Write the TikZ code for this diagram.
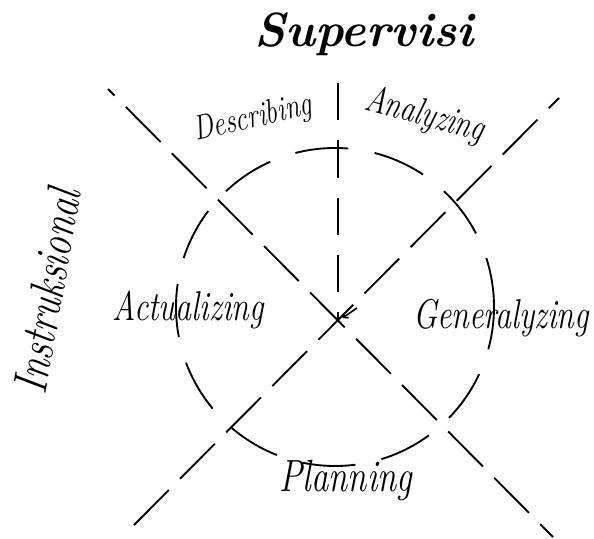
\documentclass[tikz,border=0pt]{standalone}
\usepackage{amsmath}
\usetikzlibrary{arrows.meta}

\tikzset{
  dashline/.style={line width=1.4pt, dash pattern=on 37pt off 12pt},
  ringline/.style={line width=1.4pt, dash pattern=on 40pt off 20pt},
  hand/.style={inner sep=0.75pt, font=\itshape}
}
\newcommand{\tallword}[2]{\scalebox{1}[1.3]{\fontsize{#1}{#1}\selectfont #2}}

\begin{document}
\begin{tikzpicture}[x=0.75pt,y=0.75pt,yscale=-1,xscale=1]
\useasboundingbox (0,0) rectangle (594,539);

%Coordinates
\coordinate (tl) at (108,89);
\coordinate (br) at (553,537);
\coordinate (tr) at (559,98);
\coordinate (bl) at (134,525);
\coordinate (top) at (338,83);
\coordinate (mid) at (338,321);
\coordinate (ctr) at (335,307);
\coordinate (tick) at (357,308);

%Circle [dashed]
\draw [ringline, dash phase=8pt] (ctr) circle [radius=159];
%Straight Lines [diagonals]
\draw [dashline, dash phase=30pt] (tl) -- (br);
\draw [dashline] (bl) -- (tr);
%Straight Lines [vertical]
\draw [line width=1.4pt, dash pattern=on 28pt off 15pt] (top) -- (mid);
\draw [line width=1.2pt, -{Straight Barb[length=3pt,width=5pt]}, shorten >=4pt] (tick) -- (mid);

% Text Node
\node (supervisi) [hand] at (364,34) {\fontsize{36}{40}\selectfont\bfseries Supervisi};
% Text Node
\node (describing) [hand, rotate=13] at (253,119) {\tallword{20}{Describing}};
% Text Node
\node (analyzing) [hand, rotate=-15] at (425,116) {\tallword{22}{Analyzing}};
% Text Node
\node (actualizing) [hand] at (188,310) {\tallword{24}{Actualizing}};
% Text Node
\node (generalyzing) [hand] at (501,318) {\tallword{24}{Generalyzing}};
% Text Node
\node (planning) [hand] at (346,480) {\tallword{26}{Planning}};
% Text Node
\node (instruksional) [hand, rotate=80] at (47,291) {\tallword{28}{Instruksional}};

\end{tikzpicture}
\end{document}
